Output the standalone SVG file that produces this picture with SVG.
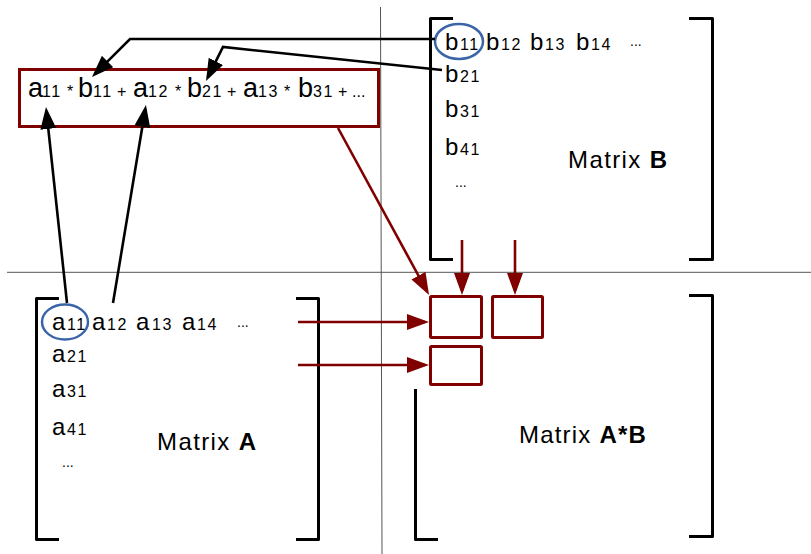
<svg xmlns="http://www.w3.org/2000/svg" width="811" height="554" viewBox="0 0 811 554">
<defs>
<style>
text{font-family:"Liberation Sans",Arial,sans-serif;fill:#000}
.big{font-size:27px}
.mid{font-size:24px}
.sub{font-size:16px;letter-spacing:1.5px}
.op{font-size:16px}
.lbl{font-size:24px;letter-spacing:1.4px}
.brk{fill:none;stroke:#000;stroke-width:3;stroke-linejoin:round;stroke-linecap:butt}
.cell{fill:#fff;stroke:#800000;stroke-width:3}
.blk{fill:none;stroke:#000;stroke-width:2.6}
.red{fill:none;stroke:#800000;stroke-width:2.6}
.sel{fill:none;stroke:#3a66a8;stroke-width:2.5}
.guide{stroke:#555;stroke-width:1;fill:none}
</style>
<marker id="ah" markerUnits="userSpaceOnUse" markerWidth="22" markerHeight="16" viewBox="0 0 22 16" refX="18" refY="8" orient="auto"><path d="M0,0 L22,8 L0,16 z" fill="#000"/></marker>
<marker id="ahr" markerUnits="userSpaceOnUse" markerWidth="22" markerHeight="16" viewBox="0 0 22 16" refX="18" refY="8" orient="auto"><path d="M0,0 L22,8 L0,16 z" fill="#800000"/></marker>
</defs>
<rect width="811" height="554" fill="#fff"/>
<g id="guides">
<line class="guide" x1="380.5" y1="7" x2="382" y2="554"/>
<line class="guide" x1="7" y1="272.3" x2="811" y2="272.3"/>
</g>
<g id="formula">
<rect x="19.5" y="69.5" width="359" height="57" fill="#fff" stroke="#800000" stroke-width="3"/>
<text class="big" x="28" y="97">a</text><text class="sub" x="42" y="97">11</text><text class="op" x="67" y="97">*</text>
<text class="big" x="78" y="97">b</text><text class="sub" x="93" y="97">11</text><text class="op" x="117" y="97">+</text>
<text class="big" x="133" y="97">a</text><text class="sub" x="148" y="97">12</text><text class="op" x="175" y="97">*</text>
<text class="big" x="187" y="97">b</text><text class="sub" x="202" y="97">21</text><text class="op" x="227" y="97">+</text>
<text class="big" x="243" y="97">a</text><text class="sub" x="258" y="97">13</text><text class="op" x="284" y="97">*</text>
<text class="big" x="298" y="97">b</text><text class="sub" x="313" y="97">31</text><text class="op" x="338" y="97">+</text>
<text class="op" x="352" y="97">...</text>
</g>
<g id="matrixB">
<path class="brk" d="M453,18.5 H430.5 V259.5 H453"/>
<path class="brk" d="M689,18.5 H712.5 V259.5 H689"/>
<ellipse class="sel" cx="459" cy="41.5" rx="24" ry="17.5"/>
<text class="mid" x="445" y="50">b</text><text class="sub" x="460" y="50">11</text>
<text class="mid" x="486" y="50">b</text><text class="sub" x="501" y="50">12</text>
<text class="mid" x="530" y="50">b</text><text class="sub" x="545" y="50">13</text>
<text class="mid" x="576" y="50">b</text><text class="sub" x="591" y="50">14</text>
<text class="op" x="630" y="46" style="font-size:14px">...</text>
<text class="mid" x="445" y="82">b</text><text class="sub" x="460" y="82">21</text>
<text class="mid" x="445" y="117">b</text><text class="sub" x="460" y="117">31</text>
<text class="mid" x="445" y="155">b</text><text class="sub" x="460" y="155">41</text>
<text class="op" x="455" y="187" style="font-size:14px">...</text>
<text class="lbl" x="568" y="168">Matrix <tspan font-weight="bold">B</tspan></text>
</g>
<g id="matrixA">
<path class="brk" d="M59,298.5 H36.5 V539.5 H59"/>
<path class="brk" d="M296,298.5 H318.5 V539.5 H296"/>
<ellipse class="sel" cx="65" cy="322" rx="23" ry="17.5"/>
<text class="mid" x="52" y="330">a</text><text class="sub" x="67" y="330">11</text>
<text class="mid" x="92" y="330">a</text><text class="sub" x="107" y="330">12</text>
<text class="mid" x="136" y="330">a</text><text class="sub" x="152" y="330">13</text>
<text class="mid" x="182" y="330">a</text><text class="sub" x="197" y="330">14</text>
<text class="op" x="237" y="327" style="font-size:14px">...</text>
<text class="mid" x="52" y="362">a</text><text class="sub" x="67" y="362">21</text>
<text class="mid" x="52" y="397">a</text><text class="sub" x="67" y="397">31</text>
<text class="mid" x="52" y="435">a</text><text class="sub" x="67" y="435">41</text>
<text class="op" x="62" y="467" style="font-size:14px">...</text>
<text class="lbl" x="157" y="450">Matrix <tspan font-weight="bold">A</tspan></text>
</g>
<g id="matrixAB">
<path class="brk" d="M415.5,389 V539.5 H438"/>
<path class="brk" d="M689,295.5 H712.5 V536.5 H689"/>
<text class="lbl" x="519" y="443" style="letter-spacing:1.2px">Matrix <tspan font-weight="bold">A*B</tspan></text>
</g>
<g id="cell11"><rect class="cell" x="430.5" y="296.5" width="51" height="41" rx="1"/></g>
<g id="cell12"><rect class="cell" x="492.5" y="296.5" width="50" height="41" rx="1"/></g>
<g id="cell21"><rect class="cell" x="430.5" y="346.5" width="51" height="38" rx="1"/></g>
<g id="connectors">
<polyline class="blk" points="435,39 130,39 94.8,74.2" marker-end="url(#ah)"/>
<polyline class="blk" points="442,70 223,47 207.8,77.4" marker-end="url(#ah)"/>
<line class="blk" x1="67" y1="303" x2="46.4" y2="111" marker-end="url(#ah)"/>
<line class="blk" x1="113" y1="303" x2="145.3" y2="109" marker-end="url(#ah)"/>
<line class="red" x1="338" y1="128" x2="427.1" y2="291.5" marker-end="url(#ahr)"/>
<line class="red" x1="462" y1="240" x2="462" y2="291" marker-end="url(#ahr)"/>
<line class="red" x1="515" y1="240" x2="515" y2="291" marker-end="url(#ahr)"/>
<line class="red" x1="298" y1="322" x2="425" y2="322" marker-end="url(#ahr)"/>
<line class="red" x1="298" y1="365" x2="425" y2="365" marker-end="url(#ahr)"/>
</g>
</svg>
